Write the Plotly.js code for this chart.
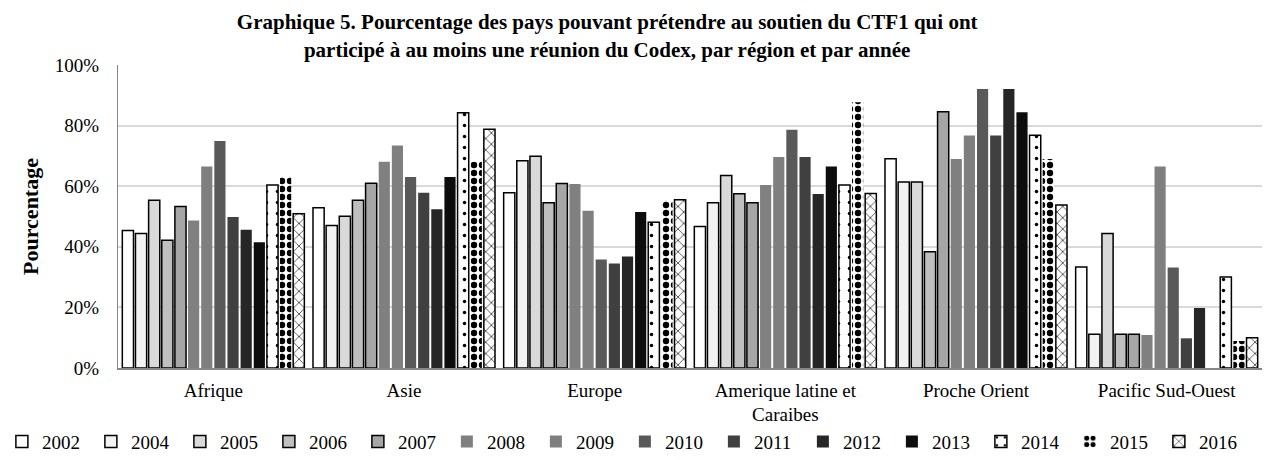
<!DOCTYPE html>
<html>
<head>
<meta charset="utf-8">
<script src="https://cdn.plot.ly/plotly-3.0.1.min.js"></script>
<style>
  body { margin: 0; background: #fff; }
  #chart { width: 1281px; height: 460px; }
</style>
</head>
<body>
<div id="chart"></div>
<script>
// regions (x axis)
let regions = ["Afrique", "Asie", "Europe", "Amerique latine et<br>Caraibes", "Proche Orient", "Pacific Sud-Ouest"]
let years = ["2002", "2004", "2005", "2006", "2007", "2008", "2009", "2010", "2011", "2012", "2013", "2014", "2015", "2016"]

// percentages per year, one value per region
let y2002 = [45.4, 52.9, 57.8, 46.7, 69.1, 33.3]
let y2004 = [44.4, 47.0, 68.4, 54.5, 61.4, 11.1]
let y2005 = [55.4, 50.1, 69.9, 63.5, 61.4, 44.4]
let y2006 = [42.2, 55.4, 54.5, 57.5, 38.4, 11.1]
let y2007 = [53.3, 61.0, 60.9, 54.5, 84.6, 11.1]
let y2008 = [48.7, 68.1, 60.7, 60.4, 69.0, 10.9]
let y2009 = [66.5, 73.4, 51.9, 69.6, 76.7, 66.5]
let y2010 = [74.9, 63.0, 35.8, 78.6, 92.1, 33.2]
let y2011 = [49.8, 57.8, 34.5, 69.6, 76.7, 9.8]
let y2012 = [45.6, 52.4, 36.8, 57.4, 92.1, 19.8]
let y2013 = [41.5, 63.0, 51.5, 66.5, 84.4, 0]
let y2014 = [60.4, 84.2, 48.1, 60.4, 76.8, 30.0]
let y2015 = [63.1, 68.1, 55.3, 87.7, 69.0, 8.9]
let y2016 = [50.9, 78.8, 55.5, 57.6, 53.8, 10.0]

let values = [y2002, y2004, y2005, y2006, y2007, y2008, y2009, y2010, y2011, y2012, y2013, y2014, y2015, y2016]

// fill colours, outline and patterns for each year
let fills = ["#ffffff", "#f2f2f2", "#d9d9d9", "#bfbfbf", "#a6a6a6", "#808080", "#7f7f7f",
             "#595959", "#404040", "#262626", "#0d0d0d", "#ffffff", "#ffffff", "#ffffff"]
let outlined = [true, true, true, true, true, false, false, false, false, false, false, true, false, true]
let patterns = {
  "2014": {shape: ".", fgcolor: "#000", bgcolor: "#fff", size: 11, solidity: 0.08},
  "2015": {shape: ".", fgcolor: "#000", bgcolor: "#fff", size: 8, solidity: 0.5},
  "2016": {shape: "x", fgcolor: "#000", bgcolor: "#fff", size: 8, solidity: 0.15}
}

let data = []
for (let i = 0; i < years.length; i++) {
  let marker = {
    color: fills[i],
    line: {color: "#000", width: outlined[i] ? 1.5 : 0}
  }
  if (patterns[years[i]]) marker.pattern = patterns[years[i]]
  data.push({
    x: regions,
    y: values[i],
    name: years[i],
    type: "bar",
    marker: marker,
    hoverinfo: "x+y+name"
  })
}

let serif = "Liberation Serif, Times New Roman, serif"

let layout = {
  width: 1281,
  height: 460,
  paper_bgcolor: "#fff",
  plot_bgcolor: "#fff",
  font: {family: serif, color: "#000"},
  title: {
    text: "<b>Graphique 5. Pourcentage des pays pouvant prétendre au soutien du CTF1 qui ont<br>participé à au moins une réunion du Codex, par région et par année</b>",
    font: {size: 21, family: serif},
    x: 0.474, xanchor: "center",
    y: 0.936, yanchor: "top"
  },
  barmode: "group",
  bargap: 0.035,
  bargroupgap: 0.15,
  margin: {l: 118, r: 19, t: 65, b: 92, autoexpand: false},
  xaxis: {
    tickfont: {size: 19},
    showline: true, linecolor: "#868686", linewidth: 1.5,
    ticks: "", showgrid: false,
    ticklabelstandoff: 4,
    automargin: false
  },
  yaxis: {
    title: {text: "<b>Pourcentage</b>", font: {size: 22}, standoff: 10},
    range: [0, 100],
    dtick: 20,
    ticksuffix: "%",
    tickfont: {size: 19},
    ticklabelstandoff: 14,
    gridcolor: "#d9d9d9", gridwidth: 1.5,
    showline: true, linecolor: "#868686", linewidth: 1,
    zeroline: false,
    automargin: false
  },
  legend: {
    orientation: "h",
    x: -0.1015, xanchor: "left",
    y: -0.18, yanchor: "top",
    font: {size: 19},
    entrywidth: 44,
    traceorder: "normal",
    itemwidth: 30
  },
  showlegend: true
}

Plotly.newPlot("chart", data, layout, {displayModeBar: false})
</script>
</body>
</html>
